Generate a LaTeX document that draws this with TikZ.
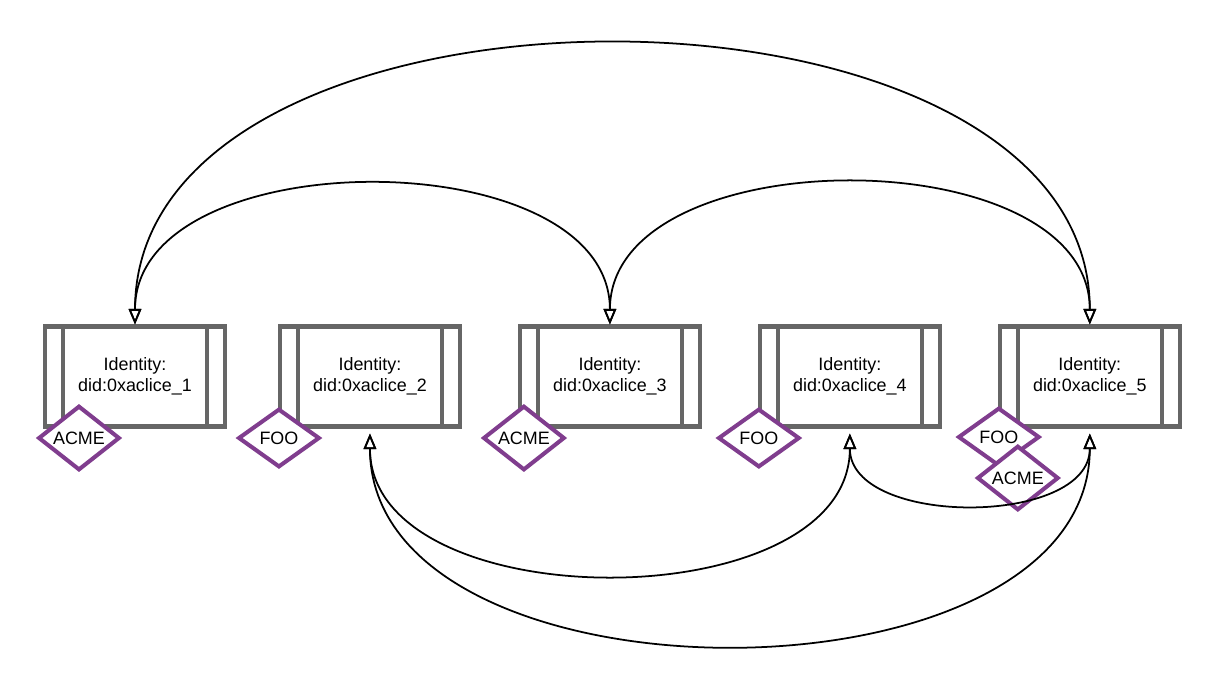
\documentclass[tikz,border=0pt]{standalone}
\usepackage{fontspec}
\setmainfont{Liberation Sans}
\usetikzlibrary{positioning,shapes.geometric,arrows.meta}
\definecolor{boxgray}{HTML}{666666}
\definecolor{tagpurple}{RGB}{128,61,142}

\begin{document}
\begin{tikzpicture}[x=0.02cm, y=-0.02cm, node distance=4.8cm,
    id node/.style={draw=boxgray, line width=2.3pt, fill=white, minimum width=3.6cm, minimum height=2cm, align=center, font=\fontsize{10.2}{12}\selectfont},
    bar/.style={draw=boxgray, line width=2.3pt},
    tag node/.style={diamond, draw=tagpurple, line width=2.3pt, fill=white, inner sep=0pt, minimum width=1.63cm, minimum height=1.17cm, font=\fontsize{10.2}{12}\selectfont},
    link/.style={<->, >={Triangle[open, length=0.31cm, width=0.25cm]}, line width=1pt}]
    \useasboundingbox (0,0) rectangle (1220,686);

    % identities
    \node[id node] (1) at (135,376.5) {Identity:\\did:0xaclice\_1};
    \node[id node] (2) [node distance=4.7cm, right of=1] {Identity:\\did:0xaclice\_2};
    \node[id node] (3) [right of=2] {Identity:\\did:0xaclice\_3};
    \node[id node] (4) [right of=3] {Identity:\\did:0xaclice\_4};
    \node[id node] (5) [right of=4] {Identity:\\did:0xaclice\_5};
    \foreach \n in {1,...,5} {
        \draw[bar] ([xshift=0.4cm]\n.north west) -- ([xshift=0.4cm]\n.south west);
        \draw[bar] ([xshift=-0.4cm]\n.north east) -- ([xshift=-0.4cm]\n.south east);
    }

    % tags
    \node[tag node, xshift=0.72cm, yshift=-0.19cm] (acme1) at (1.south west) {ACME};
    \node[tag node, xshift=0.02cm, yshift=-0.19cm] (foo2) at (2.south west) {FOO};
    \node[tag node, xshift=0.12cm, yshift=-0.19cm] (acme3) at (3.south west) {ACME};
    \node[tag node, xshift=0.02cm, yshift=-0.19cm] (foo4) at (4.south west) {FOO};
    \node[tag node, xshift=0.02cm, yshift=-0.17cm] (foo5) at (5.south west) {FOO};
    \node[tag node, xshift=0.4cm, yshift=-0.99cm] (acme5) at (5.south west) {ACME};

    % links
    \path[link] (1.north) edge[out=90, in=90] (3.north)
                (3.north) edge[out=90, in=90] (5.north)
                (1.north) edge[out=90, in=90] (5.north);
    \path[link] ([yshift=-1mm]2.south) edge[out=-90, in=-90] ([yshift=-1mm]4.south)
                ([yshift=-1mm]4.south) edge[out=-90, in=-90] ([yshift=-1mm]5.south)
                ([yshift=-1mm]2.south) edge[out=-90, in=-90] ([yshift=-1mm]5.south);
\end{tikzpicture}
\end{document}
